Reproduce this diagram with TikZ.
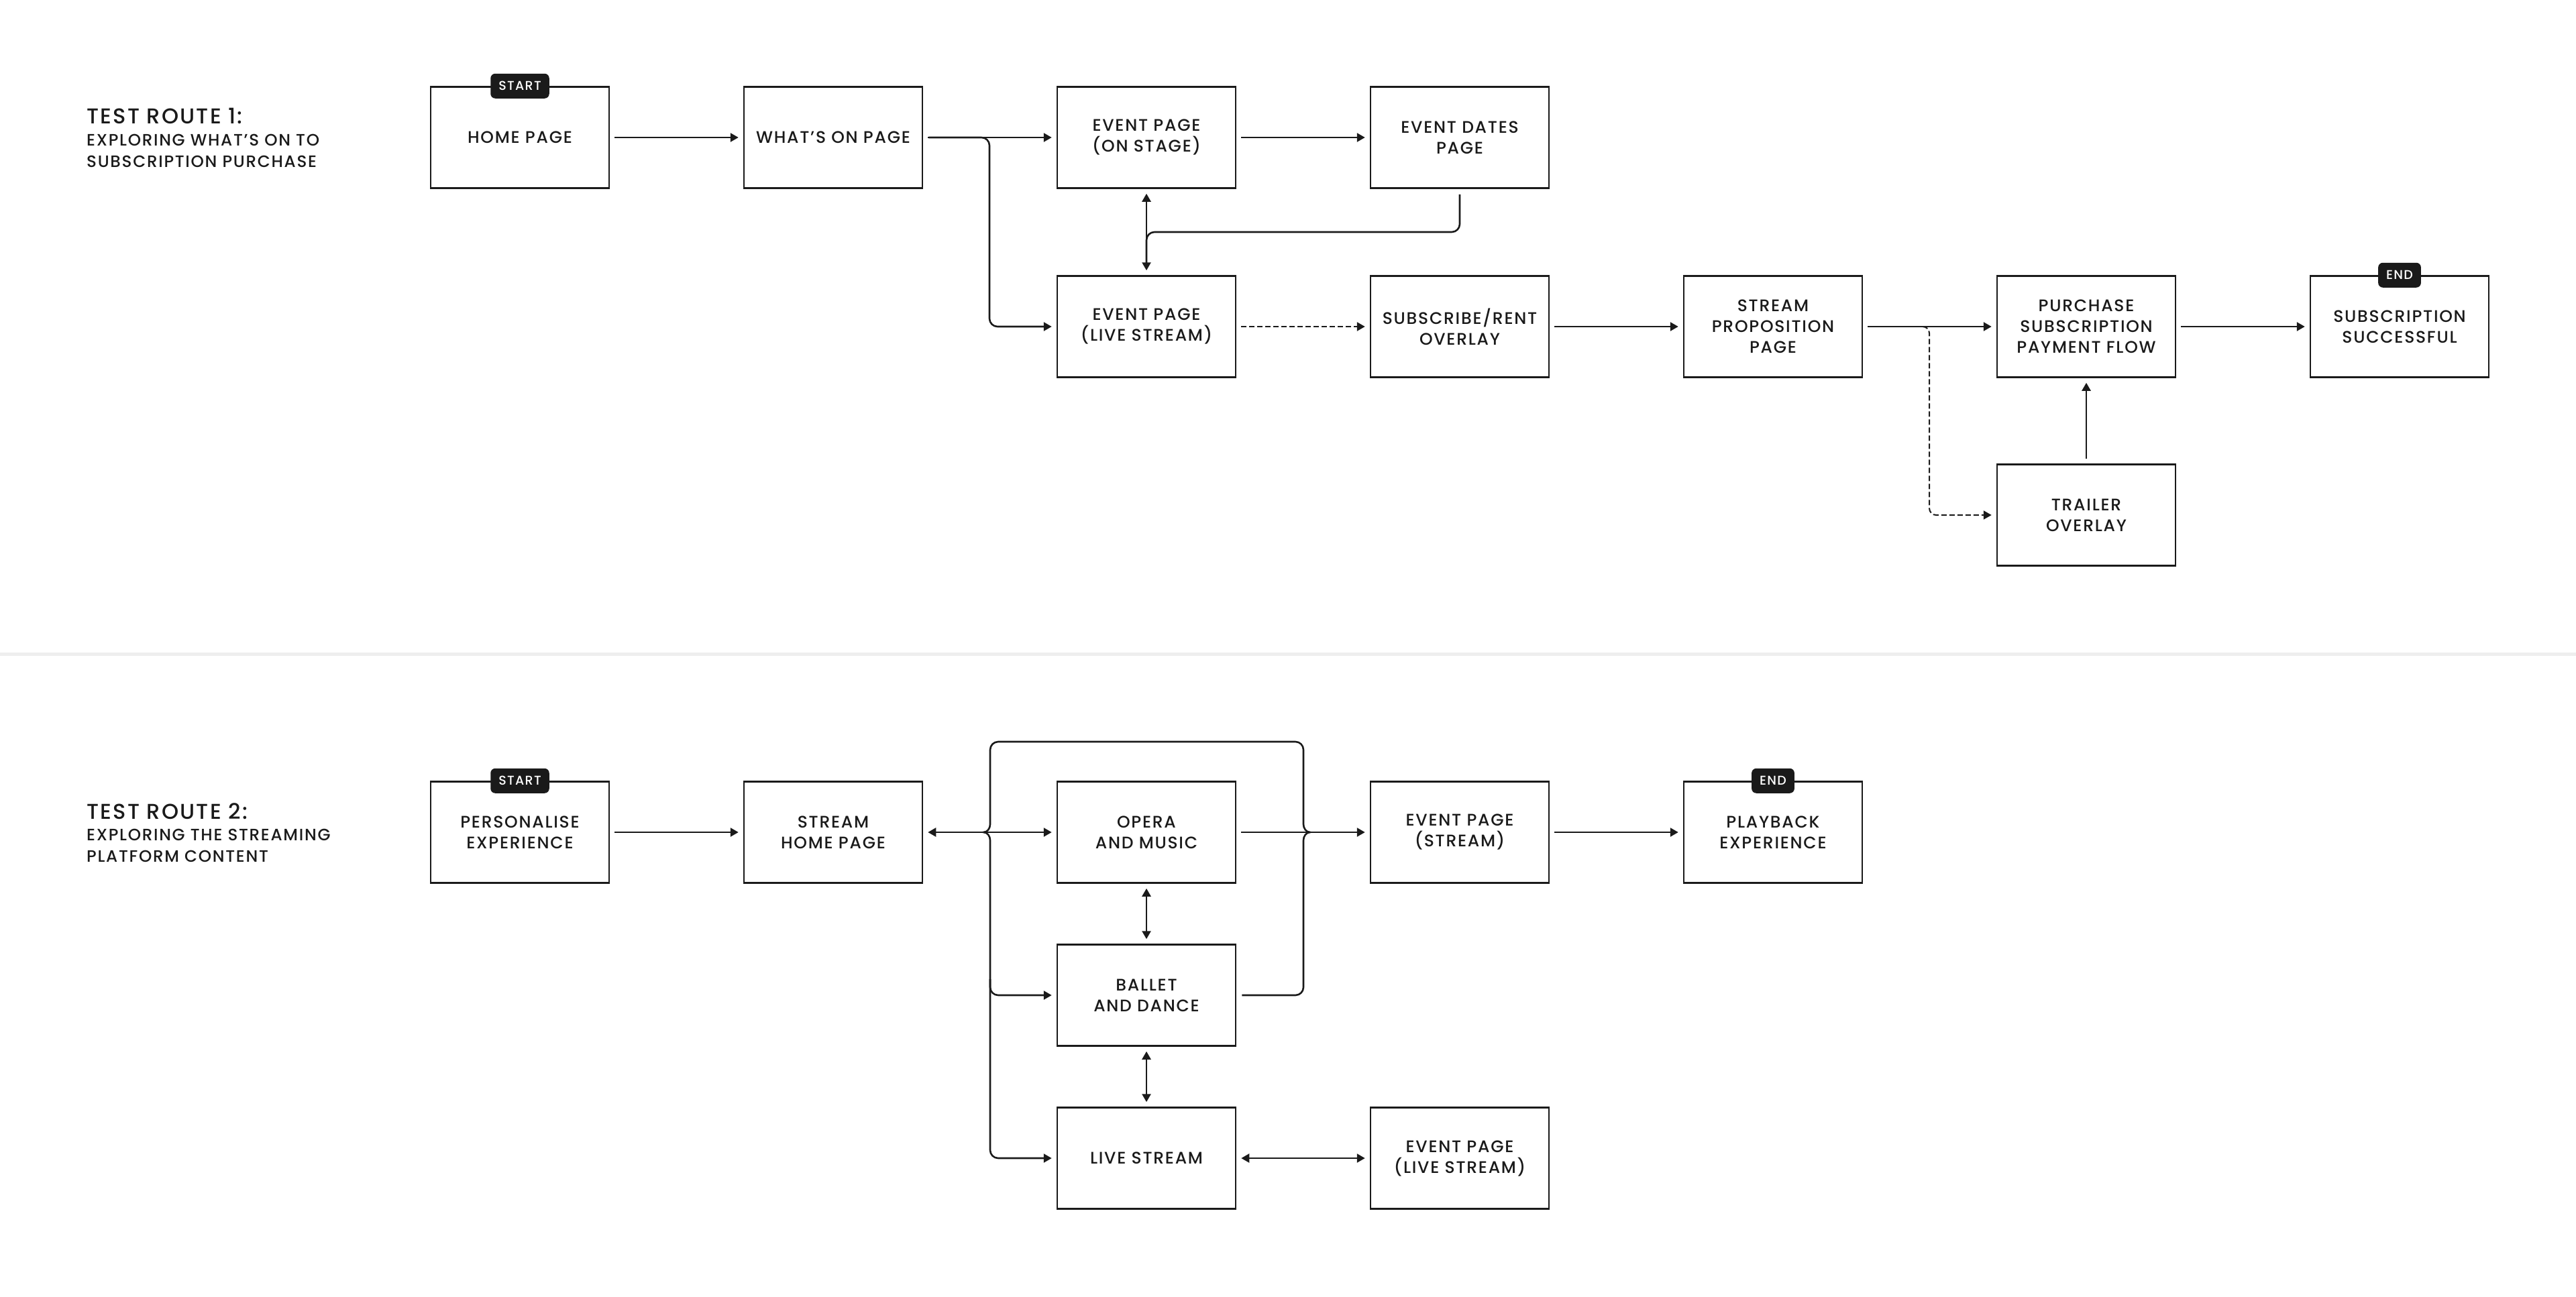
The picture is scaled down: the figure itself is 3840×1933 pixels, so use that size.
\documentclass[tikz,border=0pt]{standalone}
\usepackage{fontspec}
\setmainfont{Poppins}
\newfontfamily\lblfont{Poppins Medium}[LetterSpace=7]
\usetikzlibrary{arrows.meta}
\definecolor{ink}{HTML}{1A1A1A}
\definecolor{sepgrey}{HTML}{EEEEEE}
\begin{document}
\begin{tikzpicture}[x=1pt,y=-1pt,
  box/.style={draw=ink, line width=2.5pt, minimum width=266pt, minimum height=151pt,
    inner sep=0pt, align=center, text=ink, fill=white,
    font=\lblfont\fontsize{25}{31}\selectfont},
  badge/.style={fill=ink, rounded corners=7pt, text=white, minimum height=37pt,
    inner xsep=12pt, inner ysep=0pt, font=\lblfont\fontsize{19}{19}\selectfont},
  titletext/.style={anchor=base west, inner sep=0pt, text=ink,
    font=\lblfont\fontsize{32}{32}\selectfont},
  subtext/.style={anchor=base west, inner sep=0pt, text=ink,
    font=\lblfont\fontsize{24.6}{24.6}\selectfont},
  ln/.style={draw=ink, line width=2.6pt},
  arr/.style={ln, -{Triangle[length=12pt,width=13pt]}, shorten >=7pt, shorten <=7pt},
  darr/.style={arr, {Triangle[length=12pt,width=13pt]}-{Triangle[length=12pt,width=13pt]}},
  dsh/.style={dash pattern=on 8pt off 4pt}
]
\useasboundingbox (0,0) rectangle (3840,1933);
\fill[sepgrey] (0,973) rectangle (3840,978);

% ---------- Route 1 ----------
\node[titletext] (t1) at (129,184) {TEST ROUTE 1:};
\node[subtext] (s1a) at (129,217) {EXPLORING WHAT’S ON TO};
\node[subtext] (s1b) at (129,249) {SUBSCRIPTION PURCHASE};

\node[box] (home) at (775,205) {HOME PAGE};
\node[box] (wo) at (1242,205) {WHAT’S ON PAGE};
\node[box] (eos) at (1709,205) {EVENT PAGE\\(ON STAGE)};
\node[box] (ed) at (2176,205) {EVENT DATES\\PAGE};
\node[box] (evls) at (1709,487) {EVENT PAGE\\(LIVE STREAM)};
\node[box] (sub) at (2176,487) {SUBSCRIBE/RENT\\OVERLAY};
\node[box] (sp) at (2643,487) {STREAM\\PROPOSITION\\PAGE};
\node[box] (pur) at (3110,487) {PURCHASE\\SUBSCRIPTION\\PAYMENT FLOW};
\node[box] (ss) at (3577,487) {SUBSCRIPTION\\SUCCESSFUL};
\node[box] (tr) at (3110,768) {TRAILER\\OVERLAY};

\node[badge] (st1) at (home.north) {START};
\node[badge] (en1) at (ss.north) {END};

\draw[arr] (home) -- (wo);
\draw[arr] (wo) -- (eos);
\coordinate (brA) at (1475,205);
\draw[arr, shorten <=0pt, rounded corners=12pt] ([xshift=8pt]wo.east) -- (brA) |- (evls);
\draw[arr] (eos) -- (ed);
\draw[darr] (eos) -- (evls);
\coordinate (jA) at (1709,346);
\draw[ln, rounded corners=12pt, shorten >=16pt] ([yshift=-8pt]ed.south) |- (jA) -- (jA |- evls.north);
\draw[arr, dsh] (evls) -- (sub);
\draw[arr] (sub) -- (sp);
\draw[arr] (sp) -- (pur);
\coordinate (brBs) at (2866,487);
\coordinate (brB) at (2876,487);
\draw[arr, dsh, line width=2pt, shorten <=0pt, rounded corners=10pt] (brBs) -- (brB) |- (tr);
\draw[arr] (tr) -- (pur);
\draw[arr] (pur) -- (ss);

% ---------- Route 2 ----------
\node[titletext] (t2) at (129,1221) {TEST ROUTE 2:};
\node[subtext] (s2a) at (129,1253) {EXPLORING THE STREAMING};
\node[subtext] (s2b) at (129,1285) {PLATFORM CONTENT};

\node[box] (pe) at (775,1241) {PERSONALISE\\EXPERIENCE};
\node[box] (shp) at (1242,1241) {STREAM\\HOME PAGE};
\node[box] (opm) at (1709,1241) {OPERA\\AND MUSIC};
\node[box] (eps) at (2176,1241) {EVENT PAGE\\(STREAM)};
\node[box] (pb) at (2643,1241) {PLAYBACK\\EXPERIENCE};
\node[box] (bal) at (1709,1484) {BALLET\\AND DANCE};
\node[box] (lvs) at (1709,1727) {LIVE STREAM};
\node[box] (epl) at (2176,1727) {EVENT PAGE\\(LIVE STREAM)};

\node[badge] (st2) at (pe.north) {START};
\node[badge] (en2) at (pb.north) {END};

\draw[arr] (pe) -- (shp);
\draw[darr] (shp) -- (opm);
\draw[arr] (opm) -- (eps);
\draw[arr] (eps) -- (pb);
\draw[darr] (opm) -- (bal);
\draw[darr] (bal) -- (lvs);
\draw[darr] (lvs) -- (epl);

% bracket connectors
\coordinate (Ra) at (1943,1253);
\coordinate (Rb) at (1943,1229);
\coordinate (Rc) at (1953,1241);
\coordinate (La) at (1476,1229);
\coordinate (Lb) at (1476,1253);
\coordinate (Lc) at (1466,1241);
\coordinate (Tl) at (1476,1106);
\coordinate (Tr) at (1943,1106);
\coordinate (Lbr) at (1476,1460);

\draw[ln, rounded corners=12pt] ([xshift=8pt]bal.east) -| (Ra);
\draw[ln] (Ra) .. controls (1943,1247) and (1947,1241) .. (Rc)
  .. controls (1947,1241) and (1943,1235) .. (Rb);
\draw[ln, rounded corners=12pt] (Rb) -- (Tr) -- (Tl) -- (La);
\draw[ln] (La) .. controls (1476,1235) and (1472,1241) .. (Lc)
  .. controls (1472,1241) and (1476,1247) .. (Lb);
\draw[arr, shorten <=0pt, rounded corners=12pt] (Lb) |- (lvs);
\draw[arr, shorten <=0pt, rounded corners=12pt] (Lbr) |- (bal);
\end{tikzpicture}
\end{document}
